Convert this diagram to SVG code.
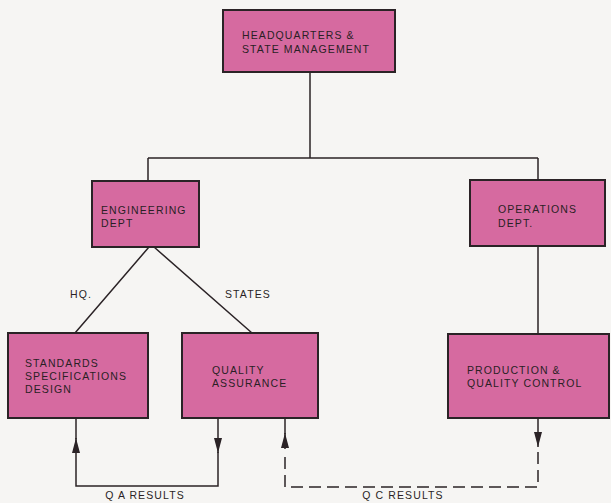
<svg xmlns="http://www.w3.org/2000/svg" width="611" height="503" viewBox="0 0 611 503">
  <style>
    .box { fill: #d66aa0; stroke: #2b2326; stroke-width: 2; }
    .lbl { font-family: "Liberation Sans", Arial, sans-serif; font-size: 10.5px; letter-spacing: 1.1px; fill: #2a1f25; }
    .line { fill: none; stroke: #2b2326; stroke-width: 1.5; }
    .dash { fill: none; stroke: #2b2326; stroke-width: 1.5; stroke-dasharray: 12 6; }
  </style>
  <defs>
    <marker id="head" markerUnits="userSpaceOnUse" viewBox="0 0 15 8" refX="15" refY="4" markerWidth="15" markerHeight="8" orient="auto">
      <path d="M0,0 L15,4 L0,8 z" fill="#2b2326"/>
    </marker>
  </defs>
  <rect width="611" height="503" fill="#f6f5f3"/>

  <g id="connectors">
    <!-- org tree -->
    <path class="line" d="M310,72 V158 M148,158 H538 M148,158 V181 M538,158 V180 M538,246 V334"/>
    <path class="line" d="M149,247 L75,333 M154,247 L252,333"/>
    <text class="lbl" x="70" y="298">HQ.</text>
    <text class="lbl" x="225" y="298">STATES</text>
    <!-- Q A results loop -->
    <path class="line" d="M218,418 V453" marker-end="url(#head)"/>
    <path class="line" d="M218,452 V486 H76 V452"/>
    <path class="line" d="M76,453 V438" marker-end="url(#head)"/>
    <path class="line" d="M76,439 V418"/>
    <text class="lbl" x="145" y="499" text-anchor="middle">Q A RESULTS</text>
    <!-- Q C results loop -->
    <path class="line" d="M538,418 V447" marker-end="url(#head)"/>
    <path class="dash" d="M538,452 V487 H285 V454"/>
    <path class="line" d="M285,449 V433" marker-end="url(#head)"/>
    <path class="line" d="M285,434 V418"/>
    <text class="lbl" x="403" y="499" text-anchor="middle">Q C RESULTS</text>
  </g>

  <g id="hq">
    <rect class="box" x="223" y="10" width="172" height="62"/>
    <text class="lbl" x="242" y="38.5">HEADQUARTERS &amp;</text>
    <text class="lbl" x="242" y="52.5">STATE MANAGEMENT</text>
  </g>
  <g id="engineering">
    <rect class="box" x="92" y="181" width="107" height="66"/>
    <text class="lbl" x="101" y="213.5">ENGINEERING</text>
    <text class="lbl" x="101" y="227">DEPT</text>
  </g>
  <g id="operations">
    <rect class="box" x="470" y="180" width="135" height="66"/>
    <text class="lbl" x="498" y="212.5">OPERATIONS</text>
    <text class="lbl" x="498" y="226.5">DEPT.</text>
  </g>
  <g id="standards">
    <rect class="box" x="8" y="333" width="140" height="85"/>
    <text class="lbl" x="25" y="366.5">STANDARDS</text>
    <text class="lbl" x="25" y="379.5">SPECIFICATIONS</text>
    <text class="lbl" x="25" y="392.5">DESIGN</text>
  </g>
  <g id="quality-assurance">
    <rect class="box" x="182" y="333" width="136" height="85"/>
    <text class="lbl" x="212" y="373.5">QUALITY</text>
    <text class="lbl" x="212" y="386.5">ASSURANCE</text>
  </g>
  <g id="production">
    <rect class="box" x="448" y="334" width="161" height="84"/>
    <text class="lbl" x="467" y="373.5">PRODUCTION &amp;</text>
    <text class="lbl" x="467" y="386.5">QUALITY CONTROL</text>
  </g>
</svg>
